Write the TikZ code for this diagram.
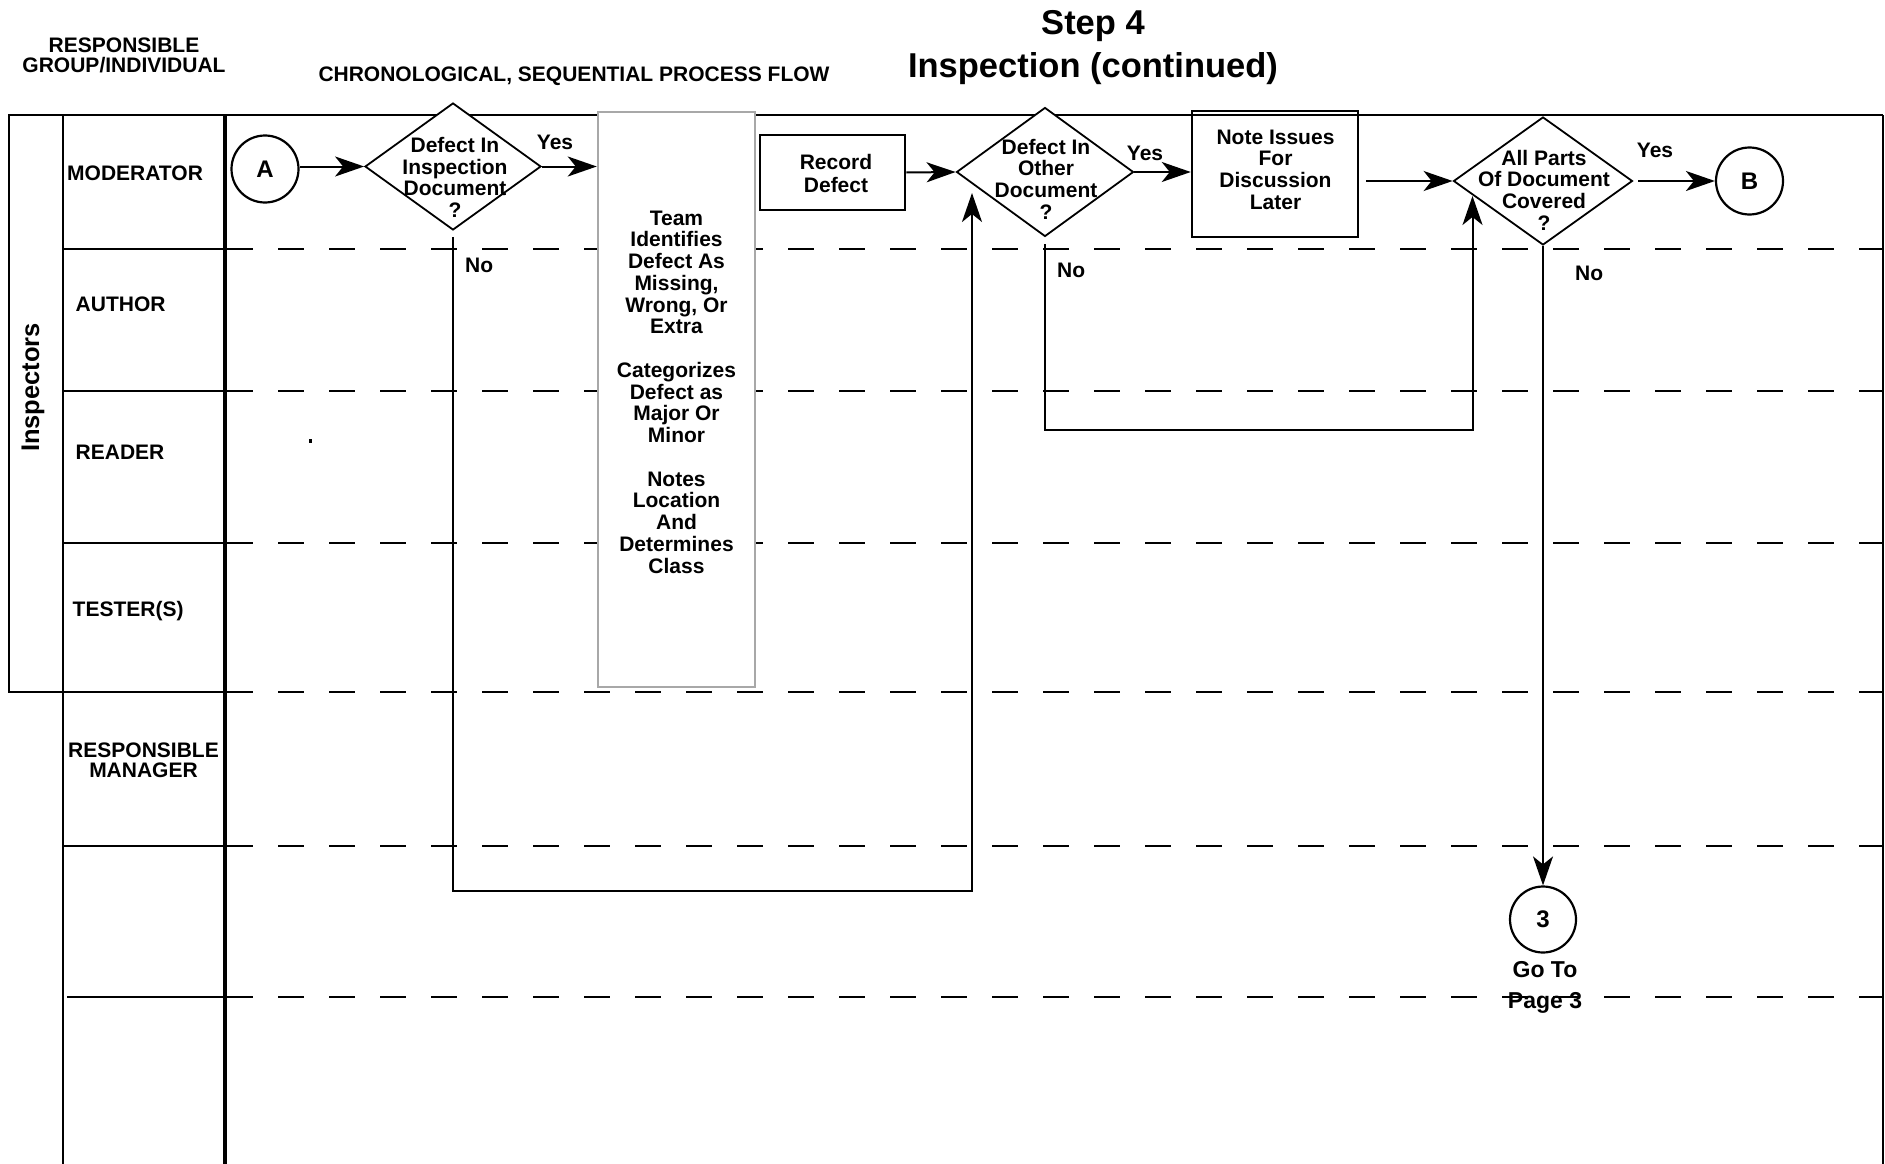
\documentclass[tikz,border=0pt]{standalone}
\usepackage{fontspec}
\setmainfont{Liberation Sans}
\usetikzlibrary{arrows.meta,shapes.geometric}
\definecolor{boxgray}{RGB}{168,168,168}
\begin{document}
\begin{tikzpicture}[x=1pt,y=-1pt,
  txt/.style={font=\bfseries\fontsize{21}{21.7}\selectfont, inner sep=0pt, align=center},
  lanerule/.style={line width=2pt},
  lanesep/.style={line width=2.6pt, dash pattern=on 26pt off 25pt},
  conn/.style={line width=2pt},
  arr/.style={conn, -{Stealth[length=29pt,width=20pt,inset=8pt]}},
  decision/.style={diamond, draw, fill=white, line width=1.8pt, inner sep=0pt},
  stepbox/.style={rectangle, draw, line width=2.5pt, inner sep=0pt},
  pageref/.style={circle, draw, fill=white, line width=2.2pt, minimum size=67pt, inner sep=0pt,
    font=\bfseries\fontsize{24}{24}\selectfont},
]
\useasboundingbox (0,0) rectangle (1885,1164);

% ---- swim-lane frame ----
\draw[line width=2.8pt] (9,115) -- (1883,115);
\draw[line width=2.5pt] (1883,115) -- (1883,1164);
\draw[lanerule] (9,115) rectangle (63,692);
\draw[lanerule] (63,115) -- (63,1164);
\draw[line width=4pt] (225,115) -- (225,1164);
\foreach \y in {249,391,543,846} \draw[lanerule] (63,\y) -- (225,\y);
\draw[lanerule] (9,692) -- (225,692);
\draw[lanerule] (67,997) -- (225,997);
\foreach \y in {249,391,543,692,846,997} \draw[lanesep] (227,\y) -- (1883,\y);

% ---- headings ----
\node[txt, anchor=north, font=\bfseries\fontsize{34.5}{43}\selectfont] (title) at (1093,10)
  {Step 4\\Inspection (continued)};
\node[txt, font=\bfseries\fontsize{21}{20}\selectfont] (hdrgroup) at (124,55) {RESPONSIBLE\\GROUP/INDIVIDUAL};
\node[txt] (hdrflow) at (574,76) {CHRONOLOGICAL, SEQUENTIAL PROCESS FLOW};

% ---- lane labels ----
\node[txt, rotate=90, font=\bfseries\fontsize{25.5}{26}\selectfont] (insp) at (33,387.5) {Inspectors};
\node[txt, anchor=west] (lmod) at (67,173) {MODERATOR};
\node[txt, anchor=west] (lauth) at (75.5,304) {AUTHOR};
\node[txt, anchor=west] (lread) at (75.5,452) {READER};
\node[txt, anchor=west] (ltest) at (72.5,611) {TESTER(S)};
\node[txt, font=\bfseries\fontsize{21}{20}\selectfont] (lmgr) at (143.5,760) {RESPONSIBLE\\MANAGER};
\fill (309,439) rectangle (311.5,443);

% ---- process nodes ----
\node[pageref] (A) at (265,169) {A};
\node[decision, minimum width=176pt, minimum height=127pt] (d1) at (453,166.5) {};
\node[txt] (d1t) at (455,177.5) {Defect In\\Inspection\\Document\\?};

\node[stepbox, draw=boxgray, fill=white, minimum width=157pt, minimum height=575pt] (team) at (676.5,399.5) {};
\node[txt, font=\bfseries\fontsize{21}{21.75}\selectfont] (teamt) at (676.5,392)
  {Team\\Identifies\\Defect As\\Missing,\\Wrong, Or\\Extra\\[21.75pt]Categorizes\\Defect as\\Major Or\\Minor\\[21.75pt]Notes\\Location\\And\\Determines\\Class};

\node[stepbox, fill=white, minimum width=145pt, minimum height=75pt] (rec) at (832.5,172.5) {};
\node[txt, font=\bfseries\fontsize{21}{23}\selectfont] (rect) at (836,173.5) {Record\\Defect};

\node[decision, minimum width=177pt, minimum height=129pt] (d2) at (1045,172) {};
\node[txt] (d2t) at (1046,179) {Defect In\\Other\\Document\\?};

\node[stepbox, minimum width=166pt, minimum height=126pt] (note) at (1275,174) {};
\node[txt] (notet) at (1275.5,169.5) {Note Issues\\For\\Discussion\\Later};

\node[decision, minimum width=179pt, minimum height=128pt] (d3) at (1543,181) {};
\node[txt] (d3t) at (1544,190) {All Parts\\Of Document\\Covered\\?};

\node[pageref] (B) at (1749.5,181) {B};
\node[pageref, minimum size=66pt] (C3) at (1543,919.5) {3};
\node[txt, anchor=north, font=\bfseries\fontsize{23}{31}\selectfont] (goto) at (1545,961.5) {Go To\\Page 3};

% ---- branch labels ----
\node[txt] (y1) at (555,142) {Yes};
\node[txt] (y2) at (1145,153) {Yes};
\node[txt] (y3) at (1655,150) {Yes};
\node[txt, anchor=west] (n1) at (465,265) {No};
\node[txt, anchor=west] (n2) at (1057,270) {No};
\node[txt, anchor=west] (n3) at (1575,273) {No};

% ---- connectors ----
\coordinate (d1turn) at (972,891);
\coordinate (d2in) at (972,193);
\coordinate (d2turn) at (1472.5,430);
\coordinate (d3in) at (1472.5,196);

\draw[arr] (A.east |- d1.west) -- (d1.west);
\draw[arr] (d1.east) -- (d1.east -| team.west);
\draw[arr] (rec.east) -- (d2.west);
\draw[arr] (d2.east) -- (d2.east -| note.west);
\draw[arr, shorten <=7pt] (note.east |- d3.west) -- (d3.west);
\draw[arr, shorten <=5pt] (d3.east) -- (B.west);
\draw[arr, shorten <=6pt] (d1.south) |- (d1turn) -- (d2in);
\draw[arr, shorten <=7pt] (d2.south) |- (d2turn) -- (d3in);
\draw[arr] (d3.south) -- (C3.north);
\end{tikzpicture}
\end{document}
